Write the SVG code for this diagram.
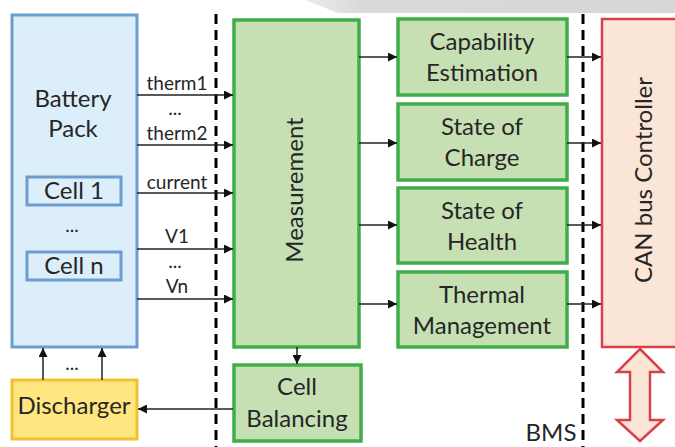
<svg xmlns="http://www.w3.org/2000/svg" width="675" height="447" viewBox="0 0 675 447">
<defs>
<marker id="ah" viewBox="0 0 10 10" refX="10" refY="5" markerWidth="9" markerHeight="9" markerUnits="userSpaceOnUse" orient="auto">
<path d="M0,0 L10,5 L0,10 z" fill="#111"/>
</marker>
<linearGradient id="wm" x1="0" y1="0" x2="1" y2="0">
<stop offset="0" stop-color="#ececec"/>
<stop offset="0.15" stop-color="#dadada"/>
<stop offset="1" stop-color="#d6d6d6"/>
</linearGradient>
<style>
text{font-family:Lato,"Open Sans","Liberation Sans",sans-serif;fill:#262626;text-anchor:middle}
.big{font-size:24px}
.sm{font-size:19px}
.blue{fill:#dbeef9;stroke:#6d9dcf;stroke-width:3}
.green{fill:#c6e0b4;stroke:#3fae49;stroke-width:3.5}
.yellow{fill:#ffe680;stroke:#f2c12e;stroke-width:3}
.red{fill:#fbe5d6;stroke:#d9414a;stroke-width:2.5}
.dash{stroke:#000;stroke-width:3;stroke-dasharray:10 6;fill:none}
.conn line{stroke:#222;stroke-width:1.5;marker-end:url(#ah)}
</style>
</defs>
<rect width="675" height="447" fill="#fff"/>
<polygon points="305,0 675,0 675,13 338,13" fill="url(#wm)"/>

<line class="dash" x1="216" y1="14" x2="216" y2="447"/>
<line class="dash" x1="583" y1="14" x2="583" y2="447"/>

<g id="battery-pack">
<rect class="blue" x="12" y="15" width="125" height="332"/>
<text class="big" x="73" y="107">Battery</text>
<text class="big" x="73" y="137">Pack</text>
<text class="sm" x="72" y="232">...</text>
</g>
<g id="cell-1">
<rect class="blue" x="27" y="177" width="94" height="28"/>
<text class="big" x="74" y="199">Cell 1</text>
</g>
<g id="cell-n">
<rect class="blue" x="27" y="252" width="94" height="28"/>
<text class="big" x="74" y="274">Cell n</text>
</g>
<g id="discharger">
<rect class="yellow" x="12" y="380" width="125" height="59"/>
<text class="big" x="74" y="414">Discharger</text>
</g>
<g id="measurement">
<rect class="green" x="234" y="20" width="125" height="327"/>
<text class="big" transform="translate(303,190) rotate(-90)">Measurement</text>
</g>
<g id="cell-balancing">
<rect class="green" x="234" y="365" width="127" height="76"/>
<text class="big" x="297" y="395">Cell</text>
<text class="big" x="297" y="427">Balancing</text>
</g>
<g id="capability-estimation">
<rect class="green" x="398" y="19" width="169" height="76"/>
<text class="big" x="482" y="50">Capability</text>
<text class="big" x="482" y="81">Estimation</text>
</g>
<g id="state-of-charge">
<rect class="green" x="398" y="104" width="169" height="76"/>
<text class="big" x="482" y="135">State of</text>
<text class="big" x="482" y="166">Charge</text>
</g>
<g id="state-of-health">
<rect class="green" x="398" y="188" width="169" height="75"/>
<text class="big" x="482" y="219">State of</text>
<text class="big" x="482" y="250">Health</text>
</g>
<g id="thermal-management">
<rect class="green" x="398" y="272" width="169" height="75"/>
<text class="big" x="482" y="303">Thermal</text>
<text class="big" x="482" y="334">Management</text>
</g>
<g id="can-bus-controller">
<rect class="red" x="602" y="19" width="80" height="328"/>
<text class="big" transform="translate(652,180) rotate(-90)">CAN bus Controller</text>
</g>
<g id="can-bus">
<path class="red" d="M640,349 L663,372 L650,372 L650,420 L663,420 L640,441 L617,420 L630,420 L630,372 L617,372 Z"/>
</g>
<g id="bms-label">
<text class="big" x="551" y="441">BMS</text>
</g>

<g id="connectors" class="conn">
<line x1="137" y1="95" x2="233" y2="95"/>
<line x1="137" y1="145" x2="233" y2="145"/>
<line x1="137" y1="193" x2="233" y2="193"/>
<line x1="137" y1="249" x2="233" y2="249"/>
<line x1="137" y1="299" x2="233" y2="299"/>
<line x1="359" y1="57" x2="397" y2="57"/>
<line x1="359" y1="143" x2="397" y2="143"/>
<line x1="359" y1="225" x2="397" y2="225"/>
<line x1="359" y1="304" x2="397" y2="304"/>
<line x1="567" y1="57" x2="601" y2="57"/>
<line x1="567" y1="143" x2="601" y2="143"/>
<line x1="567" y1="225" x2="601" y2="225"/>
<line x1="567" y1="304" x2="601" y2="304"/>
<line x1="297" y1="347" x2="297" y2="364"/>
<line x1="233" y1="409" x2="138" y2="409"/>
<line x1="43" y1="380" x2="43" y2="348"/>
<line x1="102" y1="380" x2="102" y2="348"/>
</g>
<g id="connector-labels">
<text class="sm" x="177" y="90">therm1</text>
<text class="sm" x="175" y="115">...</text>
<text class="sm" x="177" y="140">therm2</text>
<text class="sm" x="177" y="189">current</text>
<text class="sm" x="177" y="243">V1</text>
<text class="sm" x="175" y="268">...</text>
<text class="sm" x="177" y="293">Vn</text>
<text class="sm" x="72" y="370">...</text>
</g>
</svg>
